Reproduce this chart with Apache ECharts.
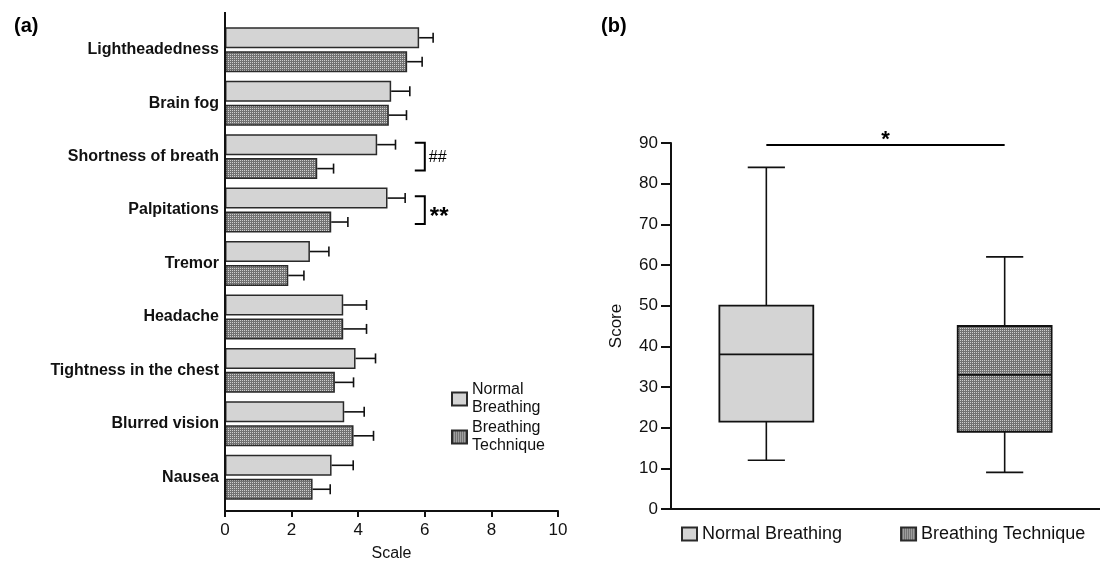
<!DOCTYPE html>
<html>
<head>
<meta charset="utf-8">
<script src="https://cdn.jsdelivr.net/npm/echarts@6/dist/echarts.min.js"></script>
<style>
  html, body { margin: 0; padding: 0; background: #fff; }
  #chart { width: 1100px; height: 562px; }
</style>
</head>
<body>
<div id="chart"></div>
<script>
// (a) symptom scale, mean + error
const symptoms = ['Lightheadedness', 'Brain fog', 'Shortness of breath', 'Palpitations', 'Tremor',
  'Headache', 'Tightness in the chest', 'Blurred vision', 'Nausea'];
const normalMean = [5.83, 4.99, 4.57, 4.88, 2.55, 3.55, 3.92, 3.58, 3.2];
const normalErr = [0.42, 0.56, 0.55, 0.53, 0.57, 0.7, 0.6, 0.6, 0.65];
const techMean = [5.47, 4.92, 2.77, 3.19, 1.9, 3.55, 3.3, 3.86, 2.63];
const techErr = [0.45, 0.53, 0.49, 0.5, 0.47, 0.7, 0.56, 0.6, 0.53];
const scaleTicks = [0, 2, 4, 6, 8, 10];
// significance brackets: [symptom index, scale value, mark]
const brackets = [[2, 6, '##'], [3, 6, '**']];

// (b) score box plots: min, Q1, median, Q3, max
const groups = ['Normal Breathing', 'Breathing Technique'];
const boxNormal = [12, 21.5, 38, 50, 84];
const boxTech = [9, 19, 33, 45, 62];
const scoreTicks = [0, 10, 20, 30, 40, 50, 60, 70, 80, 90];
const sigLine = [[0, 1, 89.5, '*']];

const FONT = 'Liberation Sans, Arial, sans-serif';
const INK = '#111';
const LIGHT = '#d4d4d4';

// fine cross-hatch fill
const pat = document.createElement('canvas');
pat.width = 2; pat.height = 2;
const pctx = pat.getContext('2d');
pctx.fillStyle = '#727272';
pctx.fillRect(0, 0, 2, 2);
pctx.fillStyle = '#cfcfcf';
pctx.fillRect(0, 0, 1, 1);
const HATCH = { image: pat, repeat: 'repeat' };

const errData = [];
symptoms.forEach((s, i) => {
  errData.push([normalMean[i], i, normalErr[i], -1]);
  errData.push([techMean[i], i, techErr[i], 1]);
});

function renderErr(params, api) {
  const v = api.value(0), cat = api.value(1), e = api.value(2), side = api.value(3);
  const band = api.size([0, 1])[1];
  const p0 = api.coord([v, cat]);
  const p1 = api.coord([v + e, cat]);
  const y = p0[1] + side * band * 0.224;
  const st = { stroke: INK, lineWidth: 1.6 };
  return {
    type: 'group',
    children: [
      { type: 'line', shape: { x1: p0[0], y1: y, x2: p1[0], y2: y }, style: st },
      { type: 'line', shape: { x1: p1[0], y1: y - 5, x2: p1[0], y2: y + 5 }, style: st }
    ]
  };
}

function renderBracket(params, api) {
  const cat = api.value(0), x = api.value(1);
  const mark = brackets[params.dataIndex][2];
  const band = api.size([0, 1])[1];
  const c = api.coord([x, cat]);
  const h = band * 0.26;
  const st = { stroke: '#000', lineWidth: 2, fill: null };
  const bold = mark === '**';
  return {
    type: 'group',
    children: [
      { type: 'polyline', shape: { points: [[c[0] - 10, c[1] - h], [c[0], c[1] - h], [c[0], c[1] + h], [c[0] - 10, c[1] + h]] }, style: st },
      { type: 'text', x: c[0] + (bold ? 5 : 4), y: c[1] + (bold ? 7 : 1),
        style: { text: mark, fill: '#000', font: (bold ? 'bold 24px ' : '16px ') + FONT, verticalAlign: 'middle' } }
    ]
  };
}

function renderBox(params, api) {
  const x = api.value(0);
  const mn = api.value(1), q1 = api.value(2), md = api.value(3), q3 = api.value(4), mx = api.value(5);
  const hw = 0.197, cw = 0.078;
  const tl = api.coord([x - hw, q3]);
  const br = api.coord([x + hw, q1]);
  const cx = api.coord([x, md])[0];
  const y = v => api.coord([x, v])[1];
  const capL = api.coord([x - cw, mn])[0], capR = api.coord([x + cw, mn])[0];
  const st = { stroke: INK, lineWidth: 1.6 };
  return {
    type: 'group',
    children: [
      { type: 'line', shape: { x1: cx, y1: y(mx), x2: cx, y2: y(q3) }, style: st },
      { type: 'line', shape: { x1: cx, y1: y(q1), x2: cx, y2: y(mn) }, style: st },
      { type: 'line', shape: { x1: capL, y1: y(mx), x2: capR, y2: y(mx) }, style: st },
      { type: 'line', shape: { x1: capL, y1: y(mn), x2: capR, y2: y(mn) }, style: st },
      { type: 'rect', shape: { x: tl[0], y: tl[1], width: br[0] - tl[0], height: br[1] - tl[1] },
        style: { fill: x === 0 ? LIGHT : HATCH, stroke: INK, lineWidth: 1.8 } },
      { type: 'line', shape: { x1: tl[0], y1: y(md), x2: br[0], y2: y(md) }, style: { stroke: INK, lineWidth: 1.8 } }
    ]
  };
}

function renderSig(params, api) {
  const a = api.coord([api.value(0), api.value(2)]);
  const b = api.coord([api.value(1), api.value(2)]);
  return {
    type: 'group',
    children: [
      { type: 'line', shape: { x1: a[0], y1: a[1], x2: b[0], y2: b[1] }, style: { stroke: '#000', lineWidth: 2 } },
      { type: 'text', x: (a[0] + b[0]) / 2, y: a[1] - 5,
        style: { text: sigLine[params.dataIndex][3], fill: '#000', font: 'bold 22px ' + FONT, align: 'center', verticalAlign: 'middle' } }
    ]
  };
}

const chart = echarts.init(document.getElementById('chart'), null, { renderer: 'canvas' });
chart.setOption({
  backgroundColor: '#fff',
  animation: false,
  textStyle: { fontFamily: FONT, color: INK },
  title: [
    { text: '(a)', left: 9, top: 11, textStyle: { fontSize: 20, fontWeight: 'bold', color: '#000', fontFamily: FONT } },
    { text: '(b)', left: 596, top: 11, textStyle: { fontSize: 20, fontWeight: 'bold', color: '#000', fontFamily: FONT } }
  ],
  legend: [
    {
      data: groups, orient: 'vertical', left: 446, top: 376, icon: 'rect',
      itemWidth: 15, itemHeight: 13, itemGap: 2,
      formatter: n => n.replace(' ', '\n'),
      textStyle: { fontSize: 16, lineHeight: 18, color: INK, fontFamily: FONT }
    },
    {
      data: groups, orient: 'horizontal', left: 676, top: 520, icon: 'rect',
      itemWidth: 15, itemHeight: 13, itemGap: 58,
      textStyle: { fontSize: 18, color: INK, fontFamily: FONT }
    }
  ],
  grid: [
    { left: 225, width: 333, top: 23, bottom: 58, outerBoundsMode: 'none', containLabel: false },
    { left: 671, right: 0, top: 143, bottom: 53, outerBoundsMode: 'none', containLabel: false }
  ],
  xAxis: [
    {
      gridIndex: 0, type: 'value', min: scaleTicks[0], max: scaleTicks[scaleTicks.length - 1], interval: 2,
      offset: 7,
      name: 'Scale', nameLocation: 'middle', nameGap: 35,
      nameTextStyle: { fontSize: 16, color: INK, fontFamily: FONT },
      axisLine: { show: true, onZero: false, lineStyle: { color: INK, width: 2 } },
      axisTick: { show: true, length: 6, lineStyle: { color: INK, width: 2 } },
      axisLabel: { fontSize: 17, color: INK, margin: 11, fontFamily: FONT },
      splitLine: { show: false }
    },
    {
      gridIndex: 1, type: 'value', min: -0.4, max: 1.4,
      axisLine: { show: true, onZero: false, lineStyle: { color: INK, width: 2 } },
      axisTick: { show: false }, axisLabel: { show: false }, splitLine: { show: false }
    }
  ],
  yAxis: [
    {
      gridIndex: 0, type: 'category', data: symptoms, inverse: true,
      axisLine: { show: false }, axisTick: { show: false },
      axisLabel: { fontSize: 16, fontWeight: 'bold', color: '#111', margin: 6, fontFamily: FONT }
    },
    {
      gridIndex: 1, type: 'value', min: scoreTicks[0], max: scoreTicks[scoreTicks.length - 1], interval: 10,
      name: 'Score', nameLocation: 'middle', nameGap: 46,
      nameTextStyle: { fontSize: 17, color: INK, fontFamily: FONT },
      axisLine: { show: true, onZero: false, lineStyle: { color: INK, width: 2 } },
      axisTick: { show: true, length: 10, lineStyle: { color: INK, width: 2 } },
      axisLabel: { fontSize: 17, color: INK, margin: 13, fontFamily: FONT },
      splitLine: { show: false }
    }
  ],
  graphic: [
    { type: 'line', shape: { x1: 225, y1: 12, x2: 225, y2: 512 }, style: { stroke: INK, lineWidth: 2 }, z: 10 }
  ],
  series: [
    {
      name: groups[0], type: 'bar', xAxisIndex: 0, yAxisIndex: 0, data: normalMean,
      barWidth: 21, barGap: '14%',
      itemStyle: { color: LIGHT, borderColor: '#2a2a2a', borderWidth: 1.5 }
    },
    {
      name: groups[1], type: 'bar', xAxisIndex: 0, yAxisIndex: 0, data: techMean,
      barWidth: 21, barGap: '14%',
      itemStyle: { color: HATCH, borderColor: '#2a2a2a', borderWidth: 1.5 }
    },
    {
      name: 'err', type: 'custom', xAxisIndex: 0, yAxisIndex: 0, data: errData,
      renderItem: renderErr, z: 5, silent: true
    },
    {
      name: 'brackets', type: 'custom', xAxisIndex: 0, yAxisIndex: 0,
      data: brackets.map(b => [b[0], b[1]]), encode: { x: 1, y: 0 },
      renderItem: renderBracket, z: 5, silent: true
    },
    {
      name: 'score', type: 'custom', xAxisIndex: 1, yAxisIndex: 1,
      data: [[0].concat(boxNormal), [1].concat(boxTech)], encode: { x: 0, y: [1, 2, 3, 4, 5] },
      renderItem: renderBox, silent: true
    },
    {
      name: 'sig', type: 'custom', xAxisIndex: 1, yAxisIndex: 1,
      data: sigLine.map(s => [s[0], s[1], s[2]]), encode: { x: [0, 1], y: 2 },
      renderItem: renderSig, silent: true
    }
  ]
});
</script>
</body>
</html>
